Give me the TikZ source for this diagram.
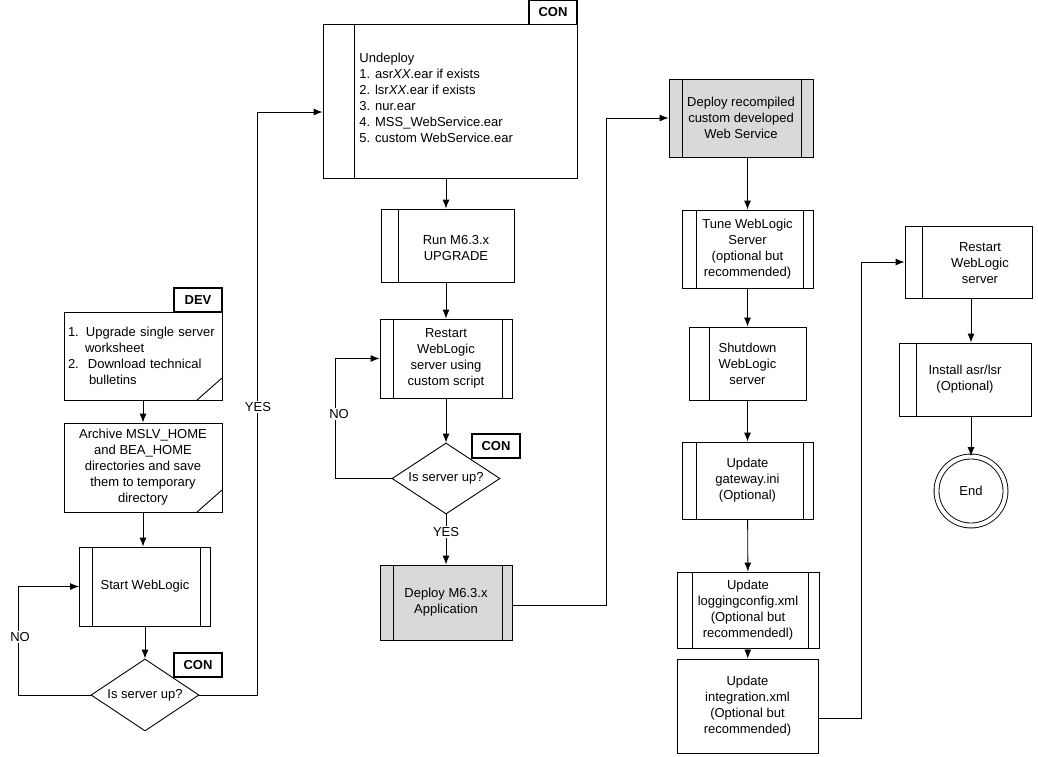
\documentclass[tikz,border=0pt]{standalone}
\usepackage{fontspec}
\setmainfont{Liberation Sans}
\usetikzlibrary{shapes.geometric,arrows.meta}

\definecolor{boxgray}{RGB}{217,217,217}
\newcommand{\diagfont}{\fontsize{13}{16}\selectfont}

\tikzset{
  box/.style={draw, rectangle, align=center, inner sep=2pt},
  bars/.style 2 args={path picture={
      \draw ([xshift=#1pt]path picture bounding box.north west) -- ([xshift=#1pt]path picture bounding box.south west);
      \draw ([xshift=-#2pt]path picture bounding box.north east) -- ([xshift=-#2pt]path picture bounding box.south east);}},
  lbar/.style={path picture={
      \draw ([xshift=#1pt]path picture bounding box.north west) -- ([xshift=#1pt]path picture bounding box.south west);}},
  note/.style={path picture={
      \draw ([xshift=-25pt]path picture bounding box.south east) -- ([yshift=22pt]path picture bounding box.south east);}},
  tag/.style={draw, line width=1.4pt, font=\diagfont\bfseries, minimum width=48pt, minimum height=24pt, inner sep=0pt},
  decision/.style={draw, diamond, aspect=1.5, inner sep=0pt, minimum width=108pt, minimum height=72pt},
  shaded/.style={fill=boxgray},
  lbl/.style={fill=white, inner sep=1pt},
}

\begin{document}
\begin{tikzpicture}[x=1pt, y=-1pt, line width=0.9pt, font=\diagfont, >={Latex[length=9pt,width=7pt]}]

        \useasboundingbox (0,0) rectangle (1038,756);

        % Left column
        \node[tag] (dev) at (198,300) {DEV};
        \node[box, note, minimum width=158pt, minimum height=88pt, text width=150pt, align=left] (prep) at (143,356)
            {\makebox[18pt][l]{1.}Upgrade single server\\\hspace*{17pt}worksheet\\\makebox[20pt][l]{2.}Download technical\\\hspace*{21pt}bulletins};
        \node[box, note, minimum width=158pt, minimum height=89pt] (archive) at (143,467.5)
            {Archive MSLV\_HOME\\and BEA\_HOME\\directories and save\\them to temporary\\directory};
        \node[box, bars={13}{10}, minimum width=131pt, minimum height=79pt] (start) at (145,586.5) {Start WebLogic};
        \node[decision] (upA) at (145,695) {Is server up?};
        \node[tag] (conA) at (198,665) {CON};

        % Middle column
        \node[tag] (conB) at (553,12.5) {CON};
        \node[box, lbar=31, minimum width=254pt, minimum height=154pt] (undeploy) at (450,101) {};
        \node[anchor=west, align=left, inner sep=0pt] (undeployTxt) at (359,97.5)
            {Undeploy\\1. asr\textit{XX}.ear if exists\\2. lsr\textit{XX}.ear if exists\\3. nur.ear\\4. MSS\_WebService.ear\\5. custom WebService.ear};
        \node[box, lbar=17, minimum width=133pt, minimum height=73pt] (run) at (447.5,245.5) {};
        \node[align=center] (runTxt) at (456,248) {Run M6.3.x\\UPGRADE};
        \node[box, bars={13}{10}, minimum width=132pt, minimum height=79pt] (restartA) at (446,358.5)
            {Restart\\WebLogic\\server using\\custom script};
        \node[decision, minimum height=71pt] (upB) at (446,478.5) {Is server up?};
        \node[tag] (conC) at (496,446) {CON};
        \node[box, shaded, bars={13}{10}, minimum width=132pt, minimum height=75pt] (deployA) at (446,602.5)
            {Deploy M6.3.x\\Application};

        % Deploy and update column
        \node[box, shaded, bars={13}{12}, minimum width=144pt, minimum height=78pt] (deployB) at (741,118)
            {Deploy recompiled\\custom developed\\Web Service};
        \node[box, bars={14}{10}, minimum width=131pt, minimum height=78pt] (tune) at (747.5,249)
            {Tune WebLogic\\Server\\(optional but\\recommended)};
        \node[box, lbar=20, minimum width=117pt, minimum height=73pt] (shut) at (747.5,363.5)
            {Shutdown\\WebLogic\\server};
        \node[box, bars={14}{10}, minimum width=131pt, minimum height=77pt] (gate) at (747.5,480.5)
            {Update\\gateway.ini\\(Optional)};
        \node[box, bars={15}{11}, minimum width=142pt, minimum height=76pt] (logcfg) at (748,610)
            {Update\\loggingconfig.xml\\(Optional but\\recommendedl)};
        \node[box, minimum width=141pt, minimum height=94pt] (integ) at (747.5,706)
            {Update\\integration.xml\\(Optional but\\recommended)};

        % Right column
        \node[box, lbar=17, minimum width=127pt, minimum height=72pt] (restartB) at (968.5,262) {};
        \node[align=center] (restartBTxt) at (980,263) {Restart\\WebLogic\\server};
        \node[box, lbar=17, minimum width=132pt, minimum height=73pt] (inst) at (965,379.5) {Install asr/lsr\\(Optional)};
        \node[draw, circle, double, double distance=4pt, minimum size=69pt, inner sep=0pt] (finish) at (971,491) {End};

        % Arrows
        \draw[->] (prep) -- (archive);
        \draw[->] (archive.south) -- (archive.south |- start.north);
        \draw[->] (start) -- (upA);
        \draw[->] (upA.west) -- ++(-72,0) |- (start.west);
        \draw[->] (upA.east) -- ++(58,0) |- ([yshift=-11pt]undeploy.west);
        \node[lbl] (noA) at (20,637) {NO};
        \node[lbl] (yesA) at (258,407) {YES};

        \draw[->] (undeploy.south -| restartA) -- (run.north -| restartA);
        \draw[->] (run.south -| restartA) -- (restartA.north);
        \draw[->] (restartA) -- (upB);
        \draw[->] (upB.west) -- ++(-56,0) |- (restartA.west);
        \draw[->] (upB) -- (deployA);
        \node[lbl] (noB) at (339,414) {NO};
        \node[lbl] (yesB) at (446,532) {YES};
        \draw[->] ([yshift=-2.5pt]deployA.east) -- ++(94,0) |- (deployB.west);

        \draw[->] (tune.north |- deployB.south) -- (tune.north);
        \draw[->] (tune) -- (shut);
        \draw[->] (shut) -- (gate);
        \draw[->] (gate) -- (logcfg);
        \draw[->] (logcfg) -- (integ);
        \draw[->] ([yshift=-12pt]integ.east) -- ++(43,0) |- (restartB.west);

        \draw[->] (restartB.south -| finish) -- (inst.north -| finish);
        \draw[->] (inst.south -| finish) -- (finish);

\end{tikzpicture}
\end{document}
